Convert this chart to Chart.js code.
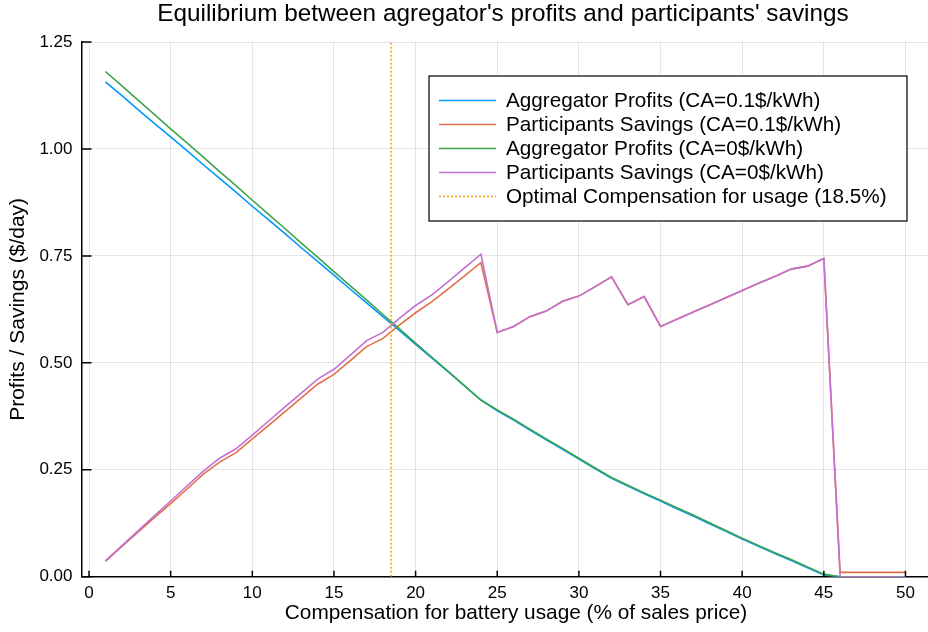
<!DOCTYPE html>
<html lang="en">
<head>
    <meta charset="UTF-8">
    <title>Equilibrium between agregator's profits and participants' savings</title>
    <script src="https://cdn.jsdelivr.net/npm/chart.js"></script>
    <style>
        html, body { margin: 0; padding: 0; background: #fff; overflow: hidden; }
        #wrap { width: 928px; height: 632px; }
    </style>
</head>
<body>
    <div id="wrap"><canvas id="equilibrium"></canvas></div>

    <script>
        // compensation for battery usage (% of sales price)
        const compensation = [1, 2, 3, 4, 5, 6, 7, 8, 9, 10, 11, 12, 13, 14, 15, 16, 17, 18, 19, 20,
            21, 22, 23, 24, 25, 26, 27, 28, 29, 30, 31, 32, 33, 34, 35, 36, 37, 38, 39, 40,
            41, 42, 43, 44, 45, 46, 47, 48, 49, 50];

        // CA = 0.1 $/kWh
        const aggProfits01 = [1.157, 1.125, 1.092, 1.060, 1.028, 0.996, 0.963, 0.931, 0.899, 0.866,
            0.834, 0.802, 0.769, 0.737, 0.705, 0.672, 0.640, 0.608, 0.576, 0.543,
            0.511, 0.479, 0.446, 0.413, 0.388, 0.366, 0.343, 0.320, 0.298, 0.275,
            0.252, 0.230, 0.212, 0.194, 0.177, 0.159, 0.142, 0.124, 0.106, 0.088,
            0.071, 0.054, 0.038, 0.021, 0.004, 0, 0, 0, 0, 0];
        const partSavings01 = [0.036, 0.070, 0.104, 0.138, 0.171, 0.205, 0.240, 0.268, 0.290, 0.322,
            0.354, 0.386, 0.418, 0.450, 0.473, 0.505, 0.538, 0.557, 0.588, 0.617,
            0.643, 0.673, 0.703, 0.734, 0.571, 0.585, 0.608, 0.621, 0.644, 0.656,
            0.678, 0.701, 0.636, 0.655, 0.585, 0.602, 0.619, 0.635, 0.652, 0.669,
            0.686, 0.702, 0.719, 0.726, 0.744, 0.010, 0.010, 0.010, 0.010, 0.010];

        // CA = 0 $/kWh
        const aggProfits0 = [1.181, 1.148, 1.114, 1.081, 1.047, 1.014, 0.981, 0.947, 0.914, 0.880,
            0.847, 0.814, 0.780, 0.747, 0.713, 0.680, 0.647, 0.613, 0.580, 0.546,
            0.513, 0.480, 0.446, 0.413, 0.390, 0.368, 0.345, 0.322, 0.300, 0.277,
            0.254, 0.232, 0.214, 0.196, 0.179, 0.161, 0.144, 0.126, 0.108, 0.090,
            0.073, 0.056, 0.040, 0.023, 0.006, 0, 0, 0, 0, 0];
        const partSavings0 = [0.037, 0.072, 0.107, 0.142, 0.177, 0.212, 0.247, 0.277, 0.299, 0.331,
            0.364, 0.397, 0.429, 0.462, 0.485, 0.518, 0.552, 0.571, 0.604, 0.634,
            0.659, 0.690, 0.722, 0.754, 0.571, 0.585, 0.608, 0.621, 0.644, 0.656,
            0.678, 0.701, 0.636, 0.655, 0.585, 0.602, 0.619, 0.635, 0.652, 0.669,
            0.686, 0.702, 0.719, 0.726, 0.744, 0, 0, 0, 0, 0];

        const optimalCompensation = 18.5;
        const xTicks = [0, 5, 10, 15, 20, 25, 30, 35, 40, 45, 50];
        const yTicks = [0, 0.25, 0.5, 0.75, 1.0, 1.25];

        const titleText = "Equilibrium between agregator's profits and participants' savings";
        const xLabel = 'Compensation for battery usage (% of sales price)';

        const FONT = "'Liberation Sans', Arial, Helvetica, sans-serif";

        function pts(ys) {
            return compensation.map((x, i) => ({x: x, y: ys[i]}));
        }

        // inner tick marks, title, x label and legend box inside the plot
        const framePlugin = {
            id: 'framePlugin',
            afterDraw(chart) {
                const ctx = chart.ctx;
                const xs = chart.scales.x, ys = chart.scales.y;
                const area = chart.chartArea;
                ctx.save();
                ctx.strokeStyle = '#000';
                ctx.lineWidth = 1.5;
                ctx.beginPath();
                xTicks.forEach(v => {
                    const px = xs.getPixelForValue(v);
                    ctx.moveTo(px, area.bottom);
                    ctx.lineTo(px, area.bottom - 6);
                });
                yTicks.forEach(v => {
                    const py = ys.getPixelForValue(v);
                    ctx.moveTo(area.left, py);
                    ctx.lineTo(area.left + 10, py);
                });
                ctx.stroke();

                // title and x label
                ctx.fillStyle = '#000';
                ctx.textAlign = 'center';
                ctx.textBaseline = 'middle';
                ctx.font = '24.3px ' + FONT;
                ctx.fillText(titleText, 503, 14.5);
                ctx.font = '20.8px ' + FONT;
                ctx.fillText(xLabel, 516, 613);

                // legend
                const lx = 429, ly = 76, lw = 478, lh = 145;
                ctx.fillStyle = '#fff';
                ctx.fillRect(lx, ly, lw, lh);
                ctx.strokeStyle = '#000';
                ctx.lineWidth = 1.2;
                ctx.strokeRect(lx, ly, lw, lh);
                ctx.font = '20.7px ' + FONT;
                ctx.textBaseline = 'middle';
                ctx.textAlign = 'left';
                chart.data.datasets.forEach((ds, i) => {
                    const y = 100.5 + i * 24;
                    ctx.strokeStyle = ds.borderColor;
                    ctx.lineWidth = 1.5;
                    ctx.setLineDash(ds.borderDash || []);
                    ctx.beginPath();
                    ctx.moveTo(439, y);
                    ctx.lineTo(496, y);
                    ctx.stroke();
                    ctx.setLineDash([]);
                    ctx.fillStyle = '#000';
                    ctx.fillText(ds.label, 506, y + 1);
                });
                ctx.restore();
            }
        };

        const ctx = document.getElementById('equilibrium').getContext('2d');
        const chart = new Chart(ctx, {
            type: 'line',
            data: {
                datasets: [
                    {
                        label: 'Aggregator Profits (CA=0.1$/kWh)',
                        data: pts(aggProfits01),
                        borderColor: '#009AFA',
                        order: 5
                    },
                    {
                        label: 'Participants Savings (CA=0.1$/kWh)',
                        data: pts(partSavings01),
                        borderColor: '#E36F47',
                        order: 4
                    },
                    {
                        label: 'Aggregator Profits (CA=0$/kWh)',
                        data: pts(aggProfits0),
                        borderColor: '#3EA44E',
                        order: 3
                    },
                    {
                        label: 'Participants Savings (CA=0$/kWh)',
                        data: pts(partSavings0),
                        borderColor: '#C271D2',
                        order: 2
                    },
                    {
                        label: 'Optimal Compensation for usage (18.5%)',
                        data: [{x: optimalCompensation, y: 0}, {x: optimalCompensation, y: 1.25}],
                        borderColor: '#FFA500',
                        borderDash: [2, 2],
                        order: 1
                    }
                ]
            },
            options: {
                responsive: true,
                maintainAspectRatio: false,
                animation: false,
                layout: { padding: { top: 42, left: 0, right: 0, bottom: 0 } },
                elements: {
                    point: { radius: 0 },
                    line: { borderWidth: 1.6, tension: 0, fill: false }
                },
                plugins: {
                    legend: { display: false },
                    tooltip: { enabled: false },
                    title: { display: false }
                },
                scales: {
                    x: {
                        type: 'linear',
                        min: -0.46,
                        max: 51.38,
                        afterBuildTicks(scale) {
                            scale.ticks = xTicks.map(v => ({value: v}));
                        },
                        afterFit(scale) { scale.height = 55.3; },
                        grid: { color: 'rgba(0,0,0,0.1)', lineWidth: 1, drawTicks: false },
                        border: { display: true, color: '#000', width: 1.5 },
                        ticks: {
                            color: '#000',
                            padding: 6,
                            maxRotation: 0,
                            font: { family: FONT, size: 17 },
                            callback: v => String(v)
                        },
                        title: { display: false }
                    },
                    y: {
                        type: 'linear',
                        min: 0,
                        max: 1.25,
                        afterBuildTicks(scale) {
                            scale.ticks = yTicks.map(v => ({value: v}));
                        },
                        afterFit(scale) { scale.width = 81.5; },
                        grid: { color: 'rgba(0,0,0,0.1)', lineWidth: 1, drawTicks: false },
                        border: { display: true, color: '#000', width: 1.5 },
                        ticks: {
                            color: '#000',
                            padding: 9,
                            font: { family: FONT, size: 17 },
                            callback: v => v.toFixed(2)
                        },
                        title: {
                            display: true,
                            text: 'Profits / Savings ($/day)',
                            color: '#000',
                            font: { family: FONT, size: 21 },
                            padding: { top: 5.4, bottom: 0 }
                        }
                    }
                }
            },
            plugins: [framePlugin]
        });
    </script>
</body>
</html>
